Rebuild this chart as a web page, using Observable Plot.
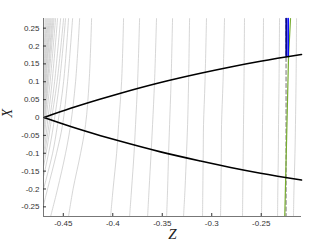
<!DOCTYPE html>
<html><head><meta charset="utf-8">
<script src="https://cdn.jsdelivr.net/npm/d3@7"></script>
<script src="https://cdn.jsdelivr.net/npm/@observablehq/plot@0.6"></script>
<style>body{margin:0;background:#fff;} svg{display:block}</style>
</head><body><div id="chart"></div>
<script>
const xDomain = [-0.47, -0.2093];
const yDomain = [-0.277, 0.277];
const xTicks = [-0.45, -0.4, -0.35, -0.3, -0.25];
const yTicks = [-0.25, -0.2, -0.15, -0.1, -0.05, 0, 0.05, 0.1, 0.15, 0.2, 0.25];
const xLabel = "Z";
const yLabel = "X";

// gray level curves: Z values sampled at these X levels
const grayLevels = [0.277, 0.1, -0.02, -0.1, -0.2, -0.277];
const grayLines = [
[-0.2143,-0.2148,-0.2154,-0.2159,-0.2169,-0.2174],
[-0.2315,-0.2320,-0.2325,-0.2327,-0.2332,-0.2335],
[-0.2477,-0.2482,-0.2487,-0.2489,-0.2494,-0.2497],
[-0.2669,-0.2674,-0.2679,-0.2682,-0.2686,-0.2689],
[-0.2871,-0.2886,-0.2901,-0.2903,-0.2907,-0.2911],
[-0.3053,-0.3068,-0.3083,-0.3086,-0.3090,-0.3093],
[-0.3224,-0.3234,-0.3244,-0.3255,-0.3270,-0.3285],
[-0.3396,-0.3411,-0.3426,-0.3436,-0.3446,-0.3456],
[-0.3558,-0.3578,-0.3598,-0.3613,-0.3633,-0.3648],
[-0.3729,-0.3749,-0.3770,-0.3785,-0.3810,-0.3830],
[-0.3891,-0.3911,-0.3941,-0.3961,-0.3997,-0.4022],
[-0.4214,-0.4239,-0.4275,-0.4325,-0.4401,-0.4447],
[-0.4335,-0.4376,-0.4426,-0.4477,-0.4558,-0.4628],
[-0.4406,-0.4457,-0.4507,-0.4568,-0.4659,-0.4729],
[-0.4447,-0.4497,-0.4558,-0.4608,-0.4699,-0.4770],
[-0.4477,-0.4538,-0.4598,-0.4649,-0.4729,-0.4800],
[-0.4497,-0.4563,-0.4628,-0.4674,-0.4750,-0.4831],
[-0.4527,-0.4588,-0.4645,-0.4689,-0.4770,-0.4851],
[-0.4558,-0.4613,-0.4662,-0.4699,-0.4780,-0.4861],
[-0.4578,-0.4633,-0.4679,-0.4709,-0.4790,-0.4871],
[-0.4593,-0.4649,-0.4689,-0.4719,-0.4800,-0.4880],
[-0.4603,-0.4659,-0.4694,-0.4729,-0.4810,-0.4890],
[-0.4613,-0.4664,-0.4699,-0.4739,-0.4820,-0.4900],
[-0.4624,-0.4674,-0.4705,-0.4750,-0.4830,-0.4910],
[-0.4634,-0.4679,-0.4710,-0.4760,-0.4840,-0.4920],
[-0.4644,-0.4684,-0.4715,-0.4770,-0.4850,-0.4930],
[-0.4654,-0.4689,-0.4720,-0.4780,-0.4860,-0.4940],
[-0.4664,-0.4694,-0.4725,-0.4790,-0.4870,-0.4950],
[-0.4674,-0.4699,-0.4730,-0.4800,-0.4880,-0.4960],
[-0.4684,-0.4704,-0.4735,-0.4810,-0.4890,-0.4970]
];

// black boundary curve
const parabolaZ = [-0.4696, -0.4426, -0.4123, -0.3921, -0.3517, -0.3113, -0.2810, -0.2507, -0.2093];
const parabolaUpper = [0, 0.0257, 0.0518, 0.0680, 0.0979, 0.1238, 0.1414, 0.1572, 0.1762];
const parabolaLower = [0, -0.0252, -0.0508, -0.0667, -0.0962, -0.1218, -0.1398, -0.1558, -0.1750];

// blue segments (top part)
const blueZ = [-0.2248, -0.2228];
const blueColors = ["#00008b", "#0000ff"];
const blueX = [0.277, 0.171];

// green line
const greenZ = [-0.2204, -0.2224, -0.2262];
const greenX = [0.277, 0.171, -0.277];

// dashed line
const dashedZ = [-0.2249, -0.2249];
const dashedX = [0.277, -0.277];

const grayData = grayLines.flatMap((zs, i) => zs.map((z, j) => ({id: i, z, X: grayLevels[j]})));
const upperData = parabolaZ.map((z, i) => ({z, X: parabolaUpper[i]}));
const lowerData = parabolaZ.map((z, i) => ({z, X: parabolaLower[i]}));
const blueData = blueZ.flatMap((z, i) => blueX.map(X => ({id: i, z, X, c: blueColors[i]})));
const greenData = greenZ.map((z, i) => ({z, X: greenX[i]}));
const dashedData = dashedZ.map((z, i) => ({z, X: dashedX[i]}));

const fmt = d => String(+d.toFixed(2));

const chart = Plot.plot({
  width: 332, height: 249,
  marginLeft: 43, marginRight: 31, marginTop: 18, marginBottom: 33,
  style: {fontFamily: "'Liberation Sans', Arial, sans-serif", fontSize: "8px", background: "#fff"},
  x: {domain: xDomain},
  y: {domain: yDomain},
  marks: [
    Plot.line(grayData, {x: "z", y: "X", z: "id", stroke: "#cbcbcb", strokeWidth: 0.8, curve: "catmull-rom", clip: true}),
    Plot.line(dashedData, {x: "z", y: "X", stroke: "#666", strokeWidth: 0.9, strokeDasharray: "4,2.5"}),
    Plot.line(greenData, {x: "z", y: "X", stroke: "#77ac30", strokeWidth: 1.2}),
    Plot.line(blueData, {x: "z", y: "X", z: "id", stroke: "c", strokeWidth: 1.6}),
    Plot.line(upperData, {x: "z", y: "X", stroke: "#000", strokeWidth: 1.6, curve: "monotone-x"}),
    Plot.line(lowerData, {x: "z", y: "X", stroke: "#000", strokeWidth: 1.6, curve: "monotone-x"}),
    Plot.ruleX([xDomain[0]], {stroke: "#777"}),
    Plot.ruleY([yDomain[0]], {stroke: "#777"}),
    Plot.axisX(xTicks, {tickSize: -3, tickPadding: 7, tickFormat: fmt, color: "#333", label: null}),
    Plot.axisY(yTicks, {tickSize: -3, tickPadding: 7, tickFormat: fmt, color: "#333", label: null}),
    Plot.text([xLabel], {frameAnchor: "bottom", dy: 22, text: d => d, fontSize: 15, fontStyle: "italic", fontFamily: "'Liberation Serif', serif", fill: "#222"}),
    Plot.text([yLabel], {frameAnchor: "left", dx: -36, rotate: -90, text: d => d, fontSize: 14, fontStyle: "italic", fontFamily: "'Liberation Serif', serif", fill: "#222"})
  ]
});
document.getElementById("chart").append(chart);
</script>
</body></html>
